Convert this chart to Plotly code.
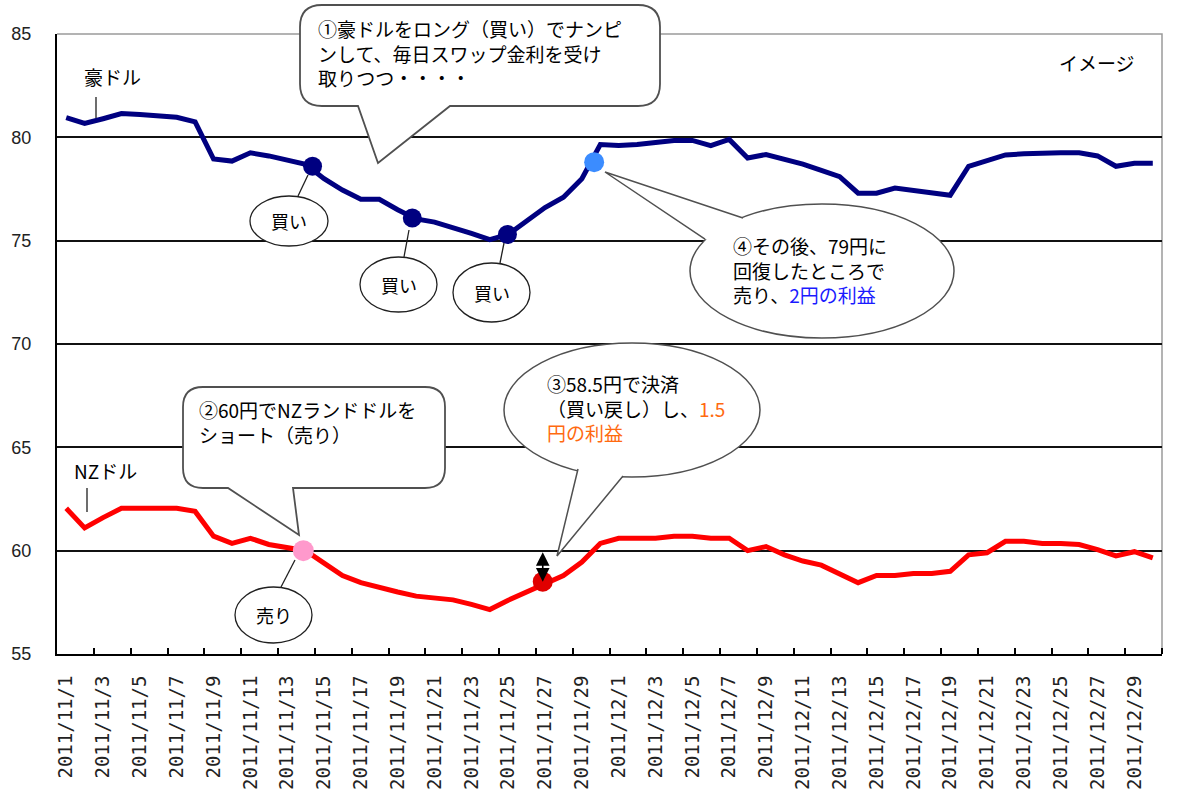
import plotly.graph_objects as go
import pandas as pd

# ---------------- data ----------------
dates = pd.date_range("2011-11-01", "2011-12-30", freq="D")

aud_jpy = [80.95, 80.67, 80.90, 81.15, 81.10, 81.05, 80.97, 80.75, 78.95, 78.85,
           79.25, 79.10, 78.90, 78.70, 78.00, 77.45, 77.00, 77.00, 76.50, 76.05,
           75.90, 75.65, 75.35, 75.05, 75.30, 75.95, 76.60, 77.10, 78.00, 79.65,
           79.60, 79.65, 79.75, 79.85, 79.85, 79.60, 79.90, 79.00, 79.17, 78.95,
           78.70, 78.40, 78.10, 77.30, 77.30, 77.55, 77.45, 77.30, 77.20, 78.60,
           78.90, 79.15, 79.20, 79.25, 79.25, 79.25, 79.10, 78.60, 78.75, 78.75]

nzd_jpy = [62.05, 61.10, 61.60, 62.05, 62.05, 62.05, 62.05, 61.90, 60.70, 60.35,
           60.60, 60.30, 60.15, 60.00, 59.40, 58.80, 58.45, 58.20, 58.00, 57.80,
           57.70, 57.62, 57.40, 57.15, 57.60, 58.00, 58.45, 58.80, 59.45, 60.35,
           60.60, 60.60, 60.60, 60.70, 60.70, 60.60, 60.60, 60.00, 60.20, 59.80,
           59.50, 59.30, 58.90, 58.45, 58.80, 58.80, 58.90, 58.90, 59.00, 59.80,
           59.90, 60.45, 60.45, 60.35, 60.35, 60.30, 60.05, 59.75, 59.95, 59.65]

# trades
aud_buy_time = ["2011-11-14 21:00", "2011-11-20 07:00", "2011-11-25 11:00"]
aud_buy_price = [78.6, 76.1, 75.3]
aud_sell_time = ["2011-11-30 04:00"]
aud_sell_price = [78.8]
nzd_sell_time = ["2011-11-14 09:00"]
nzd_sell_price = [60.0]
nzd_buyback_time = ["2011-11-27 09:00"]
nzd_buyback_price = [58.5]

y_ticks = [55, 60, 65, 70, 75, 80, 85]
label_dates = dates[::2]
tick_labels = [f"{d.year}/{d.month}/{d.day}" for d in label_dates]

# ---------------- figure ----------------
half_day = pd.Timedelta(hours=12)
x_pts = dates + half_day

JP = "Noto Sans CJK JP"
fig = go.Figure()
fig.add_trace(go.Scatter(x=x_pts, y=aud_jpy, mode="lines",
                         line=dict(color="#000080", width=5), name="豪ドル"))
fig.add_trace(go.Scatter(x=x_pts, y=nzd_jpy, mode="lines",
                         line=dict(color="#ff0000", width=5), name="NZドル"))
fig.add_trace(go.Scatter(x=aud_buy_time, y=aud_buy_price, mode="markers",
                         marker=dict(color="#000080", size=19)))
fig.add_trace(go.Scatter(x=aud_sell_time, y=aud_sell_price, mode="markers",
                         marker=dict(color="#3b8cff", size=20)))
fig.add_trace(go.Scatter(x=nzd_sell_time, y=nzd_sell_price, mode="markers",
                         marker=dict(color="#ff99cc", size=21)))
fig.add_trace(go.Scatter(x=nzd_buyback_time, y=nzd_buyback_price, mode="markers",
                         marker=dict(color="#e00000", size=20)))

# plot box in pixels
L, T, W, H = 57, 34, 1105, 620


def px(x, y):
    return (x - L) / W, (T + H - y) / H


def P(x, y):
    a, b = px(x, y)
    return f"{a:.5f},{b:.5f}"


shapes = []
annotations = []

# top/right border (grey)
shapes.append(dict(type="path", xref="paper", yref="paper",
                   path="M0,1 L1,1 L1,0", line=dict(color="#9a9a9a", width=1.5),
                   layer="between"))

EDGE = "#505050"


def rr_callout(x0, y0, x1, y1, r, bx0, bx1, tx, ty):
    path = (f"M{P(x0 + r, y0)} L{P(x1 - r, y0)} Q{P(x1, y0)} {P(x1, y0 + r)} "
            f"L{P(x1, y1 - r)} Q{P(x1, y1)} {P(x1 - r, y1)} L{P(bx1, y1)} L{P(tx, ty)} "
            f"L{P(bx0, y1)} L{P(x0 + r, y1)} Q{P(x0, y1)} {P(x0, y1 - r)} "
            f"L{P(x0, y0 + r)} Q{P(x0, y0)} {P(x0 + r, y0)} Z")
    shapes.append(dict(type="path", xref="paper", yref="paper", path=path,
                       fillcolor="white", line=dict(color=EDGE, width=1.8),
                       layer="above"))


def ellipse_callout(x0, y0, x1, y1, b0, b1, tip, edge=EDGE, w=1.5):
    a0, c0 = px(x0, y1)
    a1, c1 = px(x1, y0)
    shapes.append(dict(type="circle", xref="paper", yref="paper",
                       x0=a0, x1=a1, y0=c0, y1=c1, fillcolor="white",
                       line=dict(color=edge, width=w), layer="above"))
    if tip is not None:
        cx, cy = (x0 + x1) / 2, (y0 + y1) / 2
        ib0 = (b0[0] + (cx - b0[0]) * 0.08, b0[1] + (cy - b0[1]) * 0.12)
        ib1 = (b1[0] + (cx - b1[0]) * 0.08, b1[1] + (cy - b1[1]) * 0.12)
        shapes.append(dict(type="path", xref="paper", yref="paper",
                           path=f"M{P(*ib0)} L{P(*b0)} L{P(*tip)} L{P(*b1)} L{P(*ib1)} Z",
                           fillcolor="white", line=dict(width=0), layer="above"))
        shapes.append(dict(type="path", xref="paper", yref="paper",
                           path=f"M{P(*b0)} L{P(*tip)} L{P(*b1)}",
                           line=dict(color=edge, width=w), layer="above"))


def seg(x0, y0, x1, y1, color="#202020", w=1.3):
    a0, c0 = px(x0, y0)
    a1, c1 = px(x1, y1)
    shapes.append(dict(type="line", xref="paper", yref="paper",
                       x0=a0, y0=c0, x1=a1, y1=c1,
                       line=dict(color=color, width=w), layer="above"))


def text(x, y, s, size=19, xanchor="left", color="black"):
    a, b = px(x, y)
    annotations.append(dict(xref="paper", yref="paper", x=a, y=b, text=s,
                            showarrow=False, xanchor=xanchor, yanchor="middle",
                            align="left", font=dict(family=JP, size=size, color=color)))


# callout 1
rr_callout(300, 5, 660, 106, 22, 358, 450, 378, 163)
text(316, 53, "①豪ドルをロング（買い）でナンピ<br>ンして、毎日スワップ金利を受け<br>取りつつ・・・・")

# callout 2
rr_callout(183, 387, 445, 488, 20, 228, 293, 299, 535)
text(197, 422, "②60円でNZランドドルを<br>ショート（売り）")

# callout 3
ellipse_callout(504, 343, 760, 477, (578, 469), (623, 476), (557, 556))
text(545, 408, "③58.5円で決済<br>（買い戻し）し、<span style='color:#ff6a10'>1.5</span><br>"
               "<span style='color:#ff6a10'>円の利益</span>")

# callout 4
ellipse_callout(690, 204, 954, 338, (705, 239), (743, 218), (605, 172))
text(731, 270, "④その後、79円に<br>回復したところで<br>売り、<span style='color:#1a1aff'>2円の利益</span>")

# small balloons
for (x0, y0, x1, y1, s, lx0, ly0, lx1, ly1) in [
        (250, 196, 328, 246, "買い", 298, 196, 308, 175),
        (360, 257, 437, 312, "買い", 404, 257, 409, 230),
        (453, 263, 530, 322, "買い", 500, 263, 504, 243),
        (235, 587, 312, 643, "売り", 281, 587, 295, 560)]:
    ellipse_callout(x0, y0, x1, y1, None, None, None, edge="#202020", w=1.3)
    seg(lx0, ly0, lx1, ly1)
    text((x0 + x1) / 2, (y0 + y1) / 2, s, size=18, xanchor="center")

# series labels
text(82, 77, "豪ドル")
seg(96, 97, 96, 118)
text(72, 470, "NZドル")
seg(87, 488, 87, 512)
text(1057, 63, "イメージ")

# double arrow for NZ profit
annotations.append(dict(x=nzd_buyback_time[0], y=nzd_buyback_price[0],
                        ax=nzd_buyback_time[0], ay=nzd_sell_price[0],
                        xref="x", yref="y", axref="x", ayref="y", text="",
                        showarrow=True, arrowhead=2, startarrowhead=2,
                        arrowside="end+start", arrowsize=1.7, startarrowsize=1.7,
                        arrowwidth=1.6, arrowcolor="black"))

fig.update_layout(
    width=1200, height=809,
    margin=dict(l=L, r=1200 - L - W, t=T, b=809 - T - H),
    paper_bgcolor="white", plot_bgcolor="white",
    showlegend=False,
    shapes=shapes, annotations=annotations,
    font=dict(family="Liberation Sans", color="black"),
)
fig.update_xaxes(
    type="date", range=[dates[0], dates[-1] + pd.Timedelta(days=1)],
    tickmode="array", tickvals=label_dates + half_day, ticktext=tick_labels,
    tickangle=-90, ticks="", ticklabelstandoff=12,
    tickfont=dict(family="DejaVu Sans Mono", size=19, color="#222"),
    showgrid=False, zeroline=False,
    showline=True, linecolor="black", linewidth=2,
    minor=dict(tickmode="array",
               tickvals=list(label_dates[1:]) + [dates[-1] + pd.Timedelta(days=1)],
               ticks="inside", ticklen=6, tickwidth=1.5, tickcolor="black",
               showgrid=False),
)
fig.update_yaxes(
    range=[55, 85], tickmode="array", tickvals=y_ticks,
    ticks="", ticklabelstandoff=20,
    tickfont=dict(family="Liberation Sans", size=18, color="#222"),
    showgrid=True, gridcolor="#111", gridwidth=1.5,
    zeroline=False, showline=True, linecolor="black", linewidth=2,
)

fig.write_html("out.html")
